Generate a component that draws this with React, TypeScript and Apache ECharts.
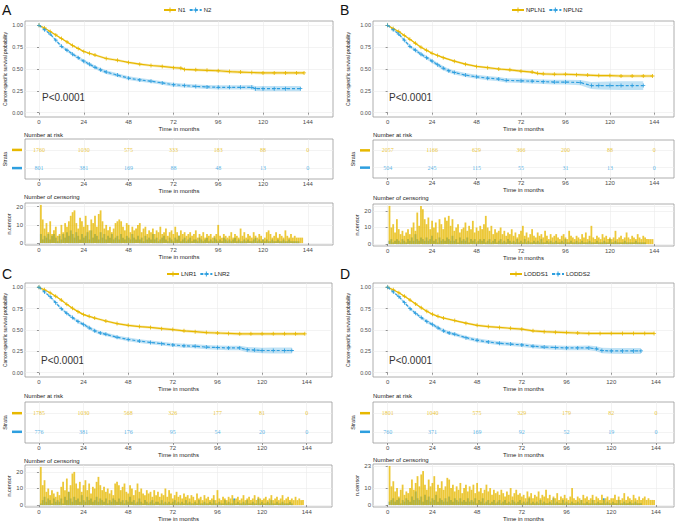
import React, { useEffect, useRef } from 'react';
import * as echarts from 'echarts';

const YELLOW = '#E7B800';
const BLUE = '#2E9FDF';
const YELLOW_BAND = 'rgba(231,184,0,0.28)';
const BLUE_BAND = 'rgba(46,159,223,0.30)';
const YELLOW_BAR = 'rgba(231,184,0,0.78)';

const timeTicks = [0, 24, 48, 72, 96, 120, 144];
const survTicks = [0, 0.25, 0.5, 0.75, 1];
const strataRows = [2, 1];
const pText = 'P<0.0001';

const strataA = ['N1', 'N2'];
const strataB = ['NPLN1', 'NPLN2'];
const strataC = ['LNR1', 'LNR2'];
const strataD = ['LODDS1', 'LODDS2'];

// number at risk at 0,24,...,144
const riskA1 = [1760, 1030, 575, 333, 183, 88, 0];
const riskA2 = [801, 381, 169, 88, 48, 13, 0];
const riskB1 = [2057, 1166, 629, 366, 200, 88, 0];
const riskB2 = [504, 245, 115, 55, 31, 13, 0];
const riskC1 = [1785, 1030, 568, 326, 177, 81, 0];
const riskC2 = [776, 381, 176, 95, 54, 20, 0];
const riskD1 = [1801, 1040, 575, 329, 179, 82, 0];
const riskD2 = [760, 371, 169, 92, 52, 19, 0];

// [month, survival, CI half-width]
const kmA1 = [[0,1,0],[3,.97,.004],[6,.93,.006],[9,.89,.008],[12,.85,.009],[15,.81,.01],[18,.77,.011],[21,.735,.012],[24,.70,.012],[27,.68,.013],[30,.66,.013],[36,.62,.014],[42,.60,.014],[48,.575,.015],[54,.555,.015],[60,.54,.015],[66,.53,.016],[72,.515,.016],[76,.51,.016],[78,.495,.016],[84,.49,.017],[90,.485,.017],[96,.48,.017],[102,.47,.018],[108,.465,.018],[114,.46,.018],[120,.455,.019],[126,.455,.019],[132,.455,.019],[138,.455,.019],[142,.455,.019]];
const kmA2 = [[0,1,0],[3,.95,.008],[6,.90,.012],[9,.83,.015],[12,.76,.017],[15,.715,.018],[18,.67,.019],[21,.63,.02],[24,.59,.02],[27,.555,.021],[30,.52,.021],[33,.49,.021],[36,.465,.021],[42,.43,.021],[48,.395,.021],[54,.375,.021],[60,.36,.021],[66,.34,.021],[72,.32,.022],[78,.31,.022],[84,.30,.022],[90,.295,.023],[96,.29,.024],[102,.29,.024],[108,.29,.025],[114,.29,.026],[116,.275,.028],[120,.275,.03],[126,.275,.03],[132,.275,.031],[140,.275,.031]];
const kmB1 = [[0,1,0],[3,.965,.004],[6,.93,.006],[9,.885,.008],[12,.84,.009],[15,.795,.01],[18,.75,.011],[21,.715,.011],[24,.68,.012],[27,.655,.012],[30,.63,.013],[36,.59,.013],[42,.555,.014],[48,.53,.014],[54,.515,.014],[60,.50,.015],[66,.49,.015],[72,.475,.015],[78,.465,.016],[81,.45,.016],[84,.445,.016],[90,.44,.016],[96,.44,.017],[102,.435,.017],[108,.43,.017],[114,.425,.018],[120,.425,.018],[126,.42,.018],[132,.42,.018],[138,.42,.018],[143,.42,.018]];
const kmB2 = [[0,1,0],[3,.95,.01],[6,.90,.014],[9,.83,.017],[12,.76,.019],[15,.715,.02],[18,.67,.021],[21,.63,.022],[24,.59,.022],[27,.55,.023],[30,.51,.023],[33,.48,.023],[36,.46,.023],[42,.43,.023],[48,.41,.023],[54,.395,.024],[60,.385,.024],[64,.37,.025],[72,.365,.025],[78,.36,.026],[84,.355,.026],[90,.35,.027],[96,.35,.028],[104,.345,.03],[110,.31,.04],[114,.31,.045],[120,.31,.048],[126,.31,.05],[132,.31,.05],[138,.31,.05]];
const kmC1 = [[0,1,0],[3,.97,.004],[6,.935,.006],[9,.895,.008],[12,.85,.009],[15,.80,.01],[18,.755,.011],[21,.715,.012],[24,.68,.012],[27,.66,.013],[30,.64,.013],[36,.605,.014],[42,.575,.014],[48,.555,.015],[54,.54,.015],[60,.53,.015],[66,.515,.016],[72,.505,.016],[78,.49,.016],[84,.48,.017],[90,.47,.017],[96,.465,.017],[102,.46,.018],[108,.455,.018],[114,.455,.018],[120,.455,.019],[126,.455,.019],[132,.455,.019],[138,.455,.019],[143,.455,.019]];
const kmC2 = [[0,1,0],[3,.945,.008],[6,.89,.012],[9,.82,.015],[12,.75,.017],[15,.695,.018],[18,.645,.019],[21,.60,.02],[24,.565,.02],[27,.525,.021],[30,.49,.021],[33,.465,.021],[36,.45,.021],[42,.415,.021],[48,.39,.021],[54,.37,.021],[60,.355,.022],[66,.34,.022],[72,.325,.022],[78,.315,.023],[84,.31,.023],[90,.30,.024],[96,.295,.025],[102,.29,.026],[108,.29,.027],[112,.27,.03],[116,.265,.032],[120,.26,.033],[126,.26,.034],[132,.26,.035],[136,.26,.035]];
const kmD1 = [[0,1,0],[3,.97,.004],[6,.935,.006],[9,.895,.008],[12,.85,.009],[15,.805,.01],[18,.76,.011],[21,.72,.012],[24,.685,.012],[27,.66,.013],[30,.64,.013],[36,.61,.014],[42,.58,.014],[48,.555,.015],[54,.54,.015],[60,.53,.015],[66,.52,.016],[72,.51,.016],[78,.49,.016],[84,.48,.017],[90,.475,.017],[96,.47,.017],[102,.465,.018],[108,.46,.018],[114,.46,.018],[120,.46,.019],[126,.46,.019],[132,.46,.019],[138,.46,.019],[143,.46,.019]];
const kmD2 = [[0,1,0],[3,.945,.008],[6,.89,.012],[9,.82,.015],[12,.75,.017],[15,.695,.018],[18,.645,.019],[21,.60,.02],[24,.565,.02],[27,.525,.021],[30,.49,.021],[33,.465,.021],[36,.45,.021],[42,.41,.021],[48,.38,.022],[54,.36,.022],[60,.345,.022],[66,.335,.023],[72,.325,.023],[78,.31,.023],[84,.30,.024],[90,.295,.025],[96,.29,.026],[102,.29,.027],[108,.29,.028],[112,.28,.03],[115,.26,.033],[120,.255,.034],[126,.255,.035],[132,.255,.035],[136,.255,.035]];

// number censored per month (month 1, 2, ...)
const censA1 = [21,13,8,11,6,12,5,7,9,4, 5,10,6,11,9,12,15,17,18,11, 8,14,12,9,15,10,7,13,11,15, 9,16,18,12,8,10,7,9,6,8, 11,12,13,12,9,7,11,10,6,9, 7,8,10,11,6,8,9,5,7,6, 8,5,7,6,9,5,6,8,4,6, 7,5,9,6,4,7,5,6,4,5, 6,4,5,7,3,5,4,6,3,5, 4,5,3,4,5,10,4,3,5,4, 3,4,6,3,5,4,3,8,4,6, 3,5,4,3,6,4,3,5,4,2, 3,6,7,5,3,4,6,3,5,4, 3,7,4,3,5,3,4,3,3,3,3];
const censA2 = [5,2,4,3,5,2,4,5,3,1, 4,2,5,3,6,4,7,5,3,6, 4,2,5,3,4,6,2,7,3,5, 4,2,6,3,5,2,4,3,5,2, 3,4,2,5,3,2,4,3,2,5, 3,2,4,2,3,1,4,2,3,2, 5,2,3,1,2,3,4,2,1,3, 2,1,3,2,4,1,2,3,1,2, 3,1,2,2,1,3,2,1,2,3, 1,2,1,3,2,1,2,1,3,2, 1,2,1,2,3,1,2,1,1,2, 1,2,1,1,2,3,1,2,1,2, 1,2,1,1,2,1,1,2,1,1, 2,1,1,2,1,1,1,1,1];
const censB1 = [23,10,12,7,15,9,6,8,5,7, 9,6,10,13,8,19,11,23,21,15, 12,16,9,14,10,13,7,15,12,9, 16,14,17,11,15,8,10,12,7,9, 10,13,8,11,9,14,7,10,8,11, 9,12,17,10,8,11,6,9,7,8, 10,6,8,5,7,6,9,5,7,4, 6,8,11,5,7,4,6,9,5,4, 7,5,6,4,8,5,3,6,4,5, 6,4,3,5,6,4,3,8,5,4, 3,5,4,3,6,4,7,3,5,11, 4,3,5,4,3,6,4,5,3,4, 3,4,8,3,4,5,3,4,7,4, 3,5,4,3,6,4,3,5,4,3,3,3,3];
const censB2 = [2,3,1,2,3,2,1,3,2,1, 3,2,4,2,6,3,2,4,3,2, 4,2,3,5,2,3,1,4,2,3, 2,4,3,2,5,2,3,1,4,2, 3,2,4,1,3,2,3,1,2,3, 2,3,1,2,3,1,2,3,1,2, 3,1,2,1,3,2,1,2,1,3, 1,2,1,3,1,2,1,1,2,1, 2,1,3,1,1,2,1,2,1,1, 2,1,1,2,1,3,1,1,2,1, 1,2,1,1,2,1,1,1,2,1, 1,1,2,1,1,1,2,1,1,3, 1,1,2,1,1,1,1,2,1,1, 1,1,1,2,1,1,1,1,1];
const censC1 = [23,12,15,8,10,6,9,7,5,8, 6,11,14,9,16,8,12,19,20,13, 10,14,8,12,15,9,13,7,11,10, 14,17,12,9,11,8,10,7,9,6, 13,14,12,9,11,13,8,7,12,10, 6,9,13,8,10,7,6,9,7,8, 5,9,6,8,5,7,6,10,5,9, 7,4,6,8,5,6,4,7,5,6, 4,6,5,3,7,4,5,3,6,4, 5,3,4,6,3,9,4,3,5,4, 3,5,4,6,3,4,5,3,4,6, 3,4,5,3,4,6,3,5,4,3, 4,5,3,4,6,3,4,5,3,4, 6,3,4,5,3,4,3,5,3,4,3,3];
const censC2 = [1,3,5,2,4,3,1,4,2,3, 2,4,1,5,3,8,4,2,5,3, 4,2,6,3,2,5,3,4,2,3, 5,2,4,3,2,4,1,3,2,4, 3,2,4,2,3,1,3,2,5,2, 3,1,2,4,2,1,3,2,1,2, 3,1,2,2,1,3,1,2,1,2, 1,2,3,1,2,1,2,1,3,1, 2,1,1,2,1,3,1,1,2,1, 1,2,1,3,1,1,2,1,1,3, 1,2,1,1,4,1,2,1,1,2, 1,3,1,1,2,1,1,4,1,2, 1,1,2,1,3,1,1,2,1,1, 2,1,1,1,2,1];
const censD1 = [23,11,14,8,10,5,9,12,6,8, 7,10,15,9,13,17,11,18,20,12, 9,15,11,13,17,8,12,10,14,9, 11,16,15,10,12,8,11,9,13,7, 10,12,8,11,9,12,7,13,8,10, 7,9,12,8,10,6,9,7,8,6, 9,7,5,8,6,10,5,7,9,6, 7,5,6,4,8,5,7,4,6,5, 8,4,6,5,9,4,6,3,5,4, 7,3,5,4,6,4,3,5,10,4, 3,5,4,3,6,4,5,3,4,6, 3,5,4,3,6,3,4,5,3,4, 4,6,3,5,3,4,7,3,5,4, 3,6,4,3,5,3,4,5,3,4,3,3,3];
const censD2 = [2,3,4,2,3,4,1,3,2,4, 3,2,5,3,8,4,3,5,2,6, 3,5,2,4,3,6,2,4,3,2, 4,2,5,3,2,4,3,2,4,2, 3,2,4,2,3,2,4,1,3,2, 4,1,2,3,1,2,3,1,2,3, 1,2,3,1,2,1,3,2,1,2, 3,1,2,1,2,4,1,2,1,2, 1,3,1,2,1,1,2,1,4,1, 2,1,1,3,1,2,1,1,2,1, 1,2,1,3,1,1,2,1,1,3, 1,1,2,1,1,4,1,2,1,1, 2,1,1,3,1,1,2,1,1,2, 1,1,2,1,1,1];

const censTicksA = [0, 10, 20];
const censTicksB = [0, 10, 20, 23];
const censTicksC = [0, 10, 20, 23];
const censTicksD = [0, 10, 23];

const PLUS = 'path://M4,0h2v4h4v2h-4v4h-2v-4h-4v-2h4z';

const layouts = [
  { letter: 'A', letterX: 2, letterY: 3, left: 25, width: 308, xMin: -7.5, xMax: 157.5, kmTop: 21, kmH: 96, riskTop: 139, riskH: 40, censTop: 203, censH: 42, censMin: -1.05, censMax: 22.05, legendLeft: 163, legendTop: 7, pX: 42, pY: 97, titleX: 24, riskTitleY: 135, censTitleY: 197, kmNameGap: 16 },
  { letter: 'B', letterX: 340, letterY: 3, left: 373, width: 301, xMin: -7.9, xMax: 154.6, kmTop: 21, kmH: 96, riskTop: 140, riskH: 38, censTop: 204, censH: 42, censMin: -1.15, censMax: 24.15, legendLeft: 511, legendTop: 7, pX: 389, pY: 97, titleX: 373, riskTitleY: 135, censTitleY: 197.5, kmNameGap: 22 },
  { letter: 'C', letterX: 2, letterY: 267, left: 25, width: 307, xMin: -7.5, xMax: 157.6, kmTop: 283, kmH: 94, riskTop: 402, riskH: 41, censTop: 465, censH: 42, censMin: -1.15, censMax: 24.15, legendLeft: 166, legendTop: 271, pX: 41, pY: 360, titleX: 24, riskTitleY: 396, censTitleY: 461, kmNameGap: 16 },
  { letter: 'D', letterX: 340, letterY: 267, left: 373, width: 301, xMin: -7.9, xMax: 153.7, kmTop: 283, kmH: 94, riskTop: 402, riskH: 41, censTop: 464, censH: 43, censMin: -1.15, censMax: 24.15, legendLeft: 509, legendTop: 271, pX: 389, pY: 360, titleX: 373, riskTitleY: 396, censTitleY: 460, kmNameGap: 22 },
];

const panels = [
  { names: strataA, km: [kmA1, kmA2], risk: [riskA1, riskA2], cens: [censA1, censA2], censTicks: censTicksA, layout: layouts[0] },
  { names: strataB, km: [kmB1, kmB2], risk: [riskB1, riskB2], cens: [censB1, censB2], censTicks: censTicksB, layout: layouts[1] },
  { names: strataC, km: [kmC1, kmC2], risk: [riskC1, riskC2], cens: [censC1, censC2], censTicks: censTicksC, layout: layouts[2] },
  { names: strataD, km: [kmD1, kmD2], risk: [riskD1, riskD2], cens: [censD1, censD2], censTicks: censTicksD, layout: layouts[3] },
];

function buildOption() {
  const grid: any[] = [];
  const xAxis: any[] = [];
  const yAxis: any[] = [];
  const series: any[] = [];
  const legend: any[] = [];
  const graphic: any[] = [];
  const axisText = '#4d4d4d';
  const gridLine = { show: true, lineStyle: { color: '#ebebeb', width: 0.6 } };
  const tickStyle = (vals: number[]) => ({ show: true, length: 2, customValues: vals, lineStyle: { color: '#555', width: 0.6 } });
  const cols = [YELLOW, BLUE];
  const bands = [YELLOW_BAND, BLUE_BAND];

  panels.forEach((p, i) => {
    const L = p.layout;
    const base = i * 3;
    const boxes = [[L.kmTop, L.kmH], [L.riskTop, L.riskH], [L.censTop, L.censH]];
    boxes.forEach(([top, height]) =>
      grid.push({ left: L.left, top, width: L.width, height, show: true, borderColor: '#9a9a9a', borderWidth: 0.8, backgroundColor: '#fff', outerBoundsMode: 'none', containLabel: false })
    );
    const nameGaps = [7, 8, 7];
    for (let k = 0; k < 3; k++) {
      xAxis.push({
        gridIndex: base + k, type: 'value', min: L.xMin, max: L.xMax,
        axisLine: { show: false }, axisTick: tickStyle(timeTicks),
        axisLabel: { customValues: timeTicks, fontSize: 6, color: axisText, margin: 2 },
        splitLine: gridLine,
        name: 'Time in months', nameLocation: 'middle', nameGap: nameGaps[k],
        nameTextStyle: { fontSize: 6, color: '#222' },
      });
    }
    yAxis.push({
      gridIndex: base, type: 'value', min: -0.05, max: 1.05,
      axisLine: { show: false }, axisTick: tickStyle(survTicks),
      axisLabel: { customValues: survTicks, formatter: (v: number) => v.toFixed(2), fontSize: 5.5, color: axisText, margin: 2 },
      splitLine: gridLine,
      name: 'Cancer-specific survival probability', nameLocation: 'middle', nameGap: L.kmNameGap,
      nameTextStyle: { fontSize: 4.8, color: '#222' },
    });
    yAxis.push({
      gridIndex: base + 1, type: 'value', min: 0.4, max: 2.6,
      axisLine: { show: false }, axisTick: { show: false, customValues: strataRows },
      axisLabel: {
        customValues: strataRows, margin: 3,
        formatter: (v: number) => (v === 2 ? '{a|}' : '{b|}'),
        rich: { a: { width: 10, height: 2.5, backgroundColor: YELLOW }, b: { width: 10, height: 2.5, backgroundColor: BLUE } },
      },
      splitLine: gridLine,
      name: 'Strata', nameLocation: 'middle', nameGap: 17,
      nameTextStyle: { fontSize: 5.5, color: '#222' },
    });
    yAxis.push({
      gridIndex: base + 2, type: 'value', min: L.censMin, max: L.censMax,
      axisLine: { show: false }, axisTick: tickStyle(p.censTicks),
      axisLabel: { customValues: p.censTicks, fontSize: 6, color: axisText, margin: 2, hideOverlap: false },
      splitLine: gridLine,
      name: 'n.censor', nameLocation: 'middle', nameGap: 13,
      nameTextStyle: { fontSize: 5.5, color: '#222' },
    });

    // confidence bands
    p.km.forEach((curve, j) => {
      series.push({
        type: 'custom', name: p.names[j] + ' CI', xAxisIndex: base, yAxisIndex: base,
        silent: true, z: 1, data: [[0, 0]],
        renderItem: (_params: any, api: any) => {
          const up = curve.map((d) => api.coord([d[0], d[1] + d[2]]));
          const lo = curve.slice().reverse().map((d) => api.coord([d[0], d[1] - d[2]]));
          return { type: 'polygon', shape: { points: up.concat(lo) }, style: { fill: bands[j] } };
        },
      });
    });
    // survival curves
    p.km.forEach((curve, j) => {
      series.push({
        type: 'line', name: p.names[j], xAxisIndex: base, yAxisIndex: base,
        data: curve.map((d) => [d[0], d[1]]),
        showSymbol: true, symbol: PLUS, symbolSize: 4,
        itemStyle: { color: cols[j] },
        lineStyle: { color: cols[j], width: 1.2, type: j ? [3, 2] : 'solid' },
        z: 3, silent: true,
      });
    });
    // number at risk
    p.risk.forEach((row, j) => {
      series.push({
        type: 'scatter', name: p.names[j] + ' risk', xAxisIndex: base + 1, yAxisIndex: base + 1,
        data: row.map((v, k) => [timeTicks[k], strataRows[j], v]),
        symbolSize: 1, itemStyle: { color: 'rgba(0,0,0,0)' }, silent: true,
        label: { show: true, position: 'inside', formatter: (q: any) => String(q.value[2]), color: cols[j], fontSize: 6, fontFamily: 'Liberation Serif' },
      });
    });
    // censoring
    [1, 0].forEach((j) => {
      series.push({
        type: 'bar', name: p.names[j] + ' censor', xAxisIndex: base + 2, yAxisIndex: base + 2,
        data: p.cens[j].map((v, k) => [k + 1, v]),
        barWidth: 1.8, barGap: '-100%', silent: true,
        itemStyle: { color: j === 0 ? YELLOW_BAR : BLUE },
      });
    });

    legend.push({
      data: p.names, left: L.legendLeft, top: L.legendTop, padding: 0,
      itemWidth: 12, itemHeight: 6, itemGap: 3, selectedMode: false,
      textStyle: { fontSize: 6, color: '#222', padding: [0, 0, 0, -3] },
    });

    graphic.push({ type: 'text', x: L.letterX, y: L.letterY, style: { text: L.letter, fontSize: 14, fill: '#111', fontFamily: 'Liberation Sans' } });
    graphic.push({ type: 'text', x: L.pX, y: L.pY, style: { text: pText, fontSize: 10, fill: '#333', fontFamily: 'Liberation Sans', verticalAlign: 'middle' } });
    graphic.push({ type: 'text', x: L.titleX, y: L.riskTitleY, style: { text: 'Number at risk', fontSize: 6, fill: '#222', fontFamily: 'Liberation Sans', verticalAlign: 'middle' } });
    graphic.push({ type: 'text', x: L.titleX, y: L.censTitleY, style: { text: 'Number of censoring', fontSize: 6, fill: '#222', fontFamily: 'Liberation Sans', verticalAlign: 'middle' } });
  });

  return {
    animation: false,
    backgroundColor: '#fff',
    textStyle: { fontFamily: 'Liberation Sans' },
    grid, xAxis, yAxis, series, legend, graphic,
  };
}

export default function App() {
  const ref = useRef<HTMLDivElement>(null);
  useEffect(() => {
    const chart = echarts.init(ref.current as HTMLDivElement, null, { renderer: 'svg' });
    chart.setOption(buildOption() as any);
    return () => chart.dispose();
  }, []);
  return <div ref={ref} style={{ position: 'fixed', left: 0, top: 0, width: 682, height: 522, background: '#fff' }} />;
}
